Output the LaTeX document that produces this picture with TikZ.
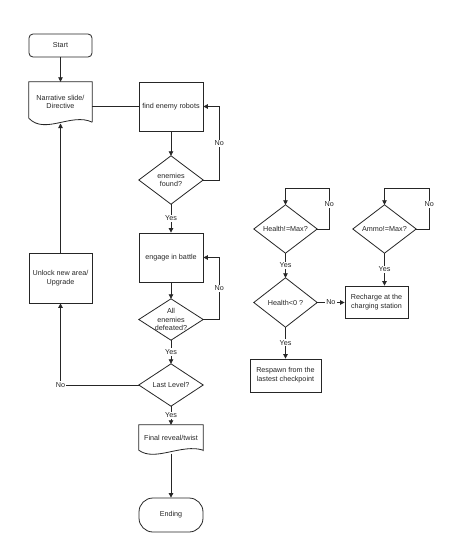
\documentclass[tikz,border=0pt]{standalone}
\usepackage{fontspec}
\setmainfont{Liberation Sans}
\usetikzlibrary{arrows.meta,calc}
\newcommand{\drawdiam}[1]{\draw[ln] (#1.north) -- (#1.east) -- (#1.south) -- (#1.west) -- cycle;}
\begin{document}
\begin{tikzpicture}[x=1pt,y=-1pt,
  every node/.style={font=\fontsize{7.2}{8.8}\selectfont, text=black!85, align=center, inner sep=0pt},
  ln/.style={line width=0.8pt, draw=black!85},
  arr/.style={ln, -{Triangle[length=4.5pt,width=4.5pt]}},
  box/.style={draw=black!85, line width=0.8pt, rectangle},
  plain/.style={rectangle, draw=none},
  lbl/.style={fill=white, inner sep=1pt}]
\fill[white] (0,0) rectangle (458,549);
\useasboundingbox (0,0) rectangle (458,549);

% left column
\node[box, rounded corners=4pt, minimum width=63pt, minimum height=23pt] (start) at (60.5,45.5) {Start};
\node[plain, minimum width=63pt, minimum height=40pt] (narr) at (60.5,102) {Narrative slide/\\Directive};
\draw[ln] (narr.south east) -- (narr.north east) -- (narr.north west) -- ($(narr.south west)+(0,-4)$)
  .. controls ($(narr.south west)+(16,13)$) and ($(narr.south west)+(43,-10)$) .. (narr.south east);
\coordinate (narrbot) at (60.5,123.5);
\node[box, minimum width=63pt, minimum height=50pt] (unlock) at (60.5,278) {Unlock new area/\\Upgrade};

% middle column
\node[box, minimum width=64pt, minimum height=49pt] (find) at (171,106.5) {find enemy robots};
\node[plain, minimum width=64pt, minimum height=48pt] (found) at (171,180) {enemies\\found?};
\drawdiam{found}
\node[box, minimum width=64pt, minimum height=49pt] (engage) at (171,257.5) {engage in battle};
\node[plain, minimum width=64pt, minimum height=41pt] (defeated) at (171,319.5) {All\\enemies\\defeated?};
\drawdiam{defeated}
\node[plain, minimum width=64pt, minimum height=42pt] (last) at (171,385) {Last Level?};
\drawdiam{last}
\node[plain, minimum width=64pt, minimum height=26pt] (final) at (171,438) {Final reveal/twist};
\draw[ln] (final.south east) -- (final.north east) -- (final.north west) -- ($(final.south west)+(0,-1)$)
  .. controls ($(final.south west)+(16,11)$) and ($(final.south west)+(43,-8)$) .. ($(final.south east)+(0,-1)$);
\coordinate (finalbot) at (171,453.5);
\node[box, rounded corners=14pt, minimum width=64pt, minimum height=34pt] (ending) at (171,515) {Ending};

% right part
\node[plain, minimum width=63pt, minimum height=48pt] (hmax) at (285.5,229) {Health!=Max?};
\drawdiam{hmax}
\node[plain, minimum width=63pt, minimum height=49pt] (hzero) at (285.5,302.5) {Health<0 ?};
\drawdiam{hzero}
\node[plain, minimum width=63pt, minimum height=48pt] (amax) at (384.5,229) {Ammo!=Max?};
\drawdiam{amax}
\node[box, minimum width=63pt, minimum height=32pt] (recharge) at (376.5,302) {Recharge at the\\charging station};
\node[box, minimum width=71pt, minimum height=33pt] (respawn) at (285.5,375.5) {Respawn from the\\lastest checkpoint};

% connectors
\draw[arr] (start) -- (narr);
\draw[ln] (find.west) -- (find.west -| narr.east);
\draw[arr] (find) -- (found);
\draw[arr] (found.east) -- ++(16,0) |- node[lbl,pos=0.25]{No} (find.east);
\draw[arr] (found) -- node[lbl]{Yes} (engage);
\draw[arr] (engage) -- (defeated);
\draw[arr] (defeated.east) -- ++(16,0) |- node[lbl,pos=0.25]{No} (engage.east);
\draw[arr] (defeated) -- node[lbl]{Yes} (last);
\draw[arr] (last.west) -| node[lbl,pos=0.5]{No} (unlock.south);
\draw[arr] (unlock.north) -- (narrbot);
\draw[arr] (last) -- node[lbl]{Yes} (final);
\draw[arr] (finalbot) -- (ending);

\draw[arr] (hmax.east) -- ++(12,0) -- node[lbl,pos=0.6]{No} ++(0,-41) -| (hmax.north);
\draw[arr] (hmax) -- node[lbl]{Yes} (hzero);
\draw[arr] (hzero.east) -- node[lbl]{No} (hzero.east -| recharge.west);
\draw[arr] (hzero) -- node[lbl]{Yes} (respawn);
\draw[arr] (amax.east) -- ++(13,0) -- node[lbl,pos=0.6]{No} ++(0,-41) -| (amax.north);
\draw[arr] (amax.south) -- node[lbl]{Yes} (amax.south |- recharge.north);
\end{tikzpicture}
\end{document}
